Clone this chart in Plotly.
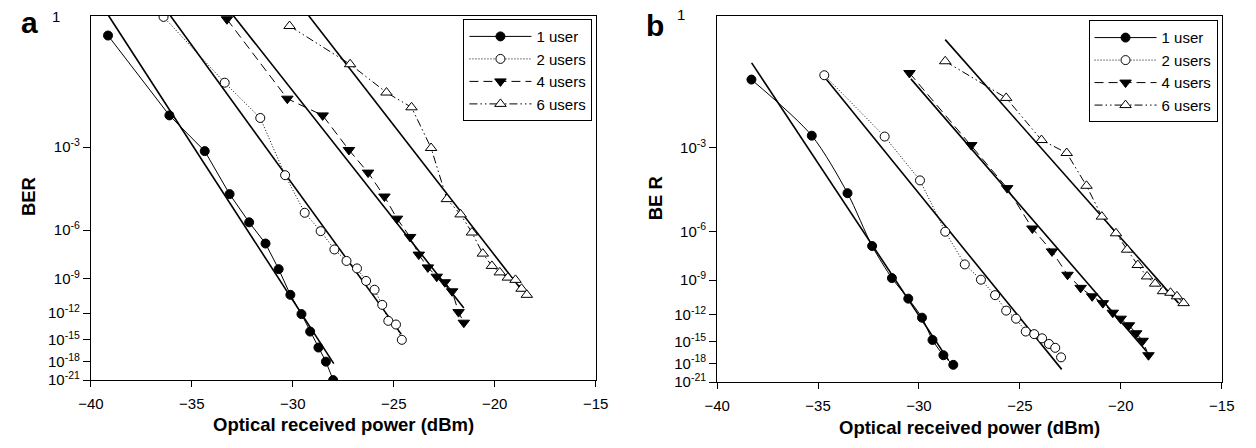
import numpy as np
import plotly.graph_objects as go

W, H = 1256, 448

# ---- measured BER curves (power in dBm, BER given as log10(BER)) ----
# panel a
a_1user_p   = [-39.15, -36.11, -34.36, -33.13, -32.16, -31.35, -30.70, -30.12, -29.57, -29.14, -28.73, -28.36, -28.00]
a_1user_ber = [-1.18, -2.30, -3.10, -4.44, -5.62, -6.71, -8.31, -10.3, -12.1, -14.0, -16.0, -18.0, -21.0]
a_2users_p   = [-36.40, -33.37, -31.61, -30.38, -29.41, -28.62, -27.94, -27.34, -26.82, -26.37, -25.95, -25.57, -25.27, -24.89, -24.60]
a_2users_ber = [-1.01, -1.75, -2.35, -3.79, -5.19, -6.05, -7.05, -7.76, -8.26, -9.17, -9.87, -11.2, -12.8, -13.2, -15.0]
a_4users_p   = [-33.26, -30.27, -28.52, -27.22, -26.27, -25.46, -24.84, -24.19, -23.76, -23.31, -22.87, -22.47, -22.11, -21.79, -21.53]
a_4users_ber = [-1.03, -2.00, -2.30, -3.07, -3.71, -4.53, -5.45, -6.35, -7.36, -8.19, -8.85, -9.27, -10.0, -11.9, -13.0]
a_6users_p   = [-30.16, -27.16, -25.36, -24.12, -23.15, -22.37, -21.69, -21.13, -20.59, -20.14, -19.75, -19.35, -18.97, -18.67, -18.41]
a_6users_ber = [-1.09, -1.50, -1.90, -2.15, -3.02, -4.63, -5.26, -6.12, -7.30, -8.09, -8.54, -8.92, -9.09, -9.79, -10.3]

# panel b
b_1user_p   = [-38.30, -35.31, -33.54, -32.32, -31.34, -30.53, -29.85, -29.33, -28.79, -28.30]
b_1user_ber = [-1.70, -2.71, -4.37, -6.78, -8.85, -10.5, -12.3, -14.8, -16.8, -18.2]
b_2users_p   = [-34.69, -31.70, -29.95, -28.70, -27.73, -26.93, -26.23, -25.68, -25.19, -24.71, -24.29, -23.90, -23.56, -23.25, -22.96]
b_2users_ber = [-1.64, -2.73, -3.93, -6.02, -7.90, -8.97, -10.2, -11.6, -12.4, -13.8, -14.1, -14.6, -15.3, -15.8, -17.1]
b_4users_p   = [-30.47, -27.41, -25.63, -24.38, -23.41, -22.64, -21.99, -21.42, -20.89, -20.40, -20.01, -19.60, -19.24, -18.92, -18.63]
b_4users_ber = [-1.61, -2.93, -4.19, -5.86, -7.09, -8.61, -9.60, -10.3, -10.9, -11.8, -12.4, -13.1, -14.0, -14.9, -16.8]
b_6users_p   = [-28.70, -25.68, -23.93, -22.68, -21.70, -20.94, -20.24, -19.69, -19.16, -18.70, -18.30, -17.91, -17.54, -17.22, -16.89]
b_6users_ber = [-1.46, -1.98, -2.81, -3.13, -4.11, -5.31, -6.10, -6.99, -7.94, -8.73, -9.27, -9.87, -10.0, -10.3, -10.9]

# ---- straight-line fits: (start power, end power), (start log10 BER, end log10 BER) ----
a_fit_p   = [[-39.12, -27.97], [-36.06, -24.63], [-32.94, -21.53], [-29.21, -18.62]]
a_fit_ber = [[-1.0, -18.3], [-1.0, -14.3], [-1.0, -11.5], [-1.0, -10.0]]
b_fit_p   = [[-38.29, -28.54], [-34.58, -22.93], [-30.40, -18.72], [-28.70, -17.14]]
b_fit_ber = [[-1.48, -17.5], [-1.70, -18.9], [-1.69, -16.3], [-1.22, -10.9]]

series_names = ["1 user", "2 users", "4 users", "6 users"]
x_ticks = [-40, -35, -30, -25, -20, -15]
ber_tick_exps = [3, 6, 9, 12, 15, 18, 21]

FONT = "Liberation Sans, Arial, sans-serif"


def ber_axis(log_ber):
    """BER plotted on a log(-log) scale, growing downwards."""
    return np.log10(-np.asarray(log_ber, dtype=float))


styles = [
    dict(line=dict(color="black", width=1, dash="solid"),
         marker=dict(symbol="circle", size=9, color="black", line=dict(color="black", width=1))),
    dict(line=dict(color="black", width=1, dash="1px,2px"),
         marker=dict(symbol="circle", size=9, color="white", line=dict(color="black", width=1))),
    dict(line=dict(color="black", width=1, dash="9px,5px"),
         marker=dict(symbol="triangle-down", size=10, color="black", line=dict(color="black", width=1))),
    dict(line=dict(color="black", width=1, dash="8px,3px,1.5px,3px,1.5px,3px"),
         marker=dict(symbol="triangle-up", size=10, color="white", line=dict(color="black", width=1))),
]

fig = go.Figure()

panels = [
    dict(xa="x", ya="y", legend="legend",
         data=[(a_1user_p, a_1user_ber), (a_2users_p, a_2users_ber),
               (a_4users_p, a_4users_ber), (a_6users_p, a_6users_ber)],
         fits=(a_fit_p, a_fit_ber), spline=[False, False, False, False]),
    dict(xa="x2", ya="y2", legend="legend2",
         data=[(b_1user_p, b_1user_ber), (b_2users_p, b_2users_ber),
               (b_4users_p, b_4users_ber), (b_6users_p, b_6users_ber)],
         fits=(b_fit_p, b_fit_ber), spline=[True, False, False, False]),
]

for pan in panels:
    fp, fb = pan["fits"]
    for k in range(4):
        fig.add_trace(go.Scatter(
            x=fp[k], y=ber_axis(fb[k]), mode="lines",
            line=dict(color="black", width=1.6), showlegend=False,
            xaxis=pan["xa"], yaxis=pan["ya"], hoverinfo="skip"))
    for k, (p, b) in enumerate(pan["data"]):
        st = styles[k]
        line = dict(st["line"])
        if pan["spline"][k]:
            line["shape"] = "spline"
            line["smoothing"] = 0.8
        fig.add_trace(go.Scatter(
            x=p, y=ber_axis(b), mode="lines+markers", name=series_names[k],
            line=line, marker=st["marker"], legend=pan["legend"],
            xaxis=pan["xa"], yaxis=pan["ya"]))


def px(xp):
    return xp / W


def py(yp):
    return 1 - yp / H


font_tick = dict(family=FONT, size=15, color="black")

common_x = dict(range=[-40, -15], tickvals=x_ticks, ticks="outside", ticklen=6,
                tickwidth=1, tickcolor="black", showline=True, linecolor="black",
                linewidth=1, mirror=True, showgrid=False, zeroline=False,
                tickfont=font_tick, ticklabelstandoff=4)
common_y = dict(range=[np.log10(21), 0], autorange=False,
                tickvals=list(np.log10(ber_tick_exps)),
                ticktext=[f"10<sup>-{e}</sup>" for e in ber_tick_exps],
                ticks="outside", ticklen=7, tickwidth=1, tickcolor="black",
                showline=True, linecolor="black", linewidth=1, mirror=True,
                showgrid=False, zeroline=False, tickfont=font_tick)

legend_common = dict(xanchor="right", yanchor="top", bgcolor="white",
                     bordercolor="black", borderwidth=1, itemwidth=62,
                     font=dict(family=FONT, size=15, color="black"),
                     tracegroupgap=0)

fig.update_layout(
    width=W, height=H, margin=dict(l=0, r=0, t=0, b=0),
    paper_bgcolor="white", plot_bgcolor="white",
    xaxis=dict(domain=[px(79.5), px(595)], anchor="y", **common_x),
    yaxis=dict(domain=[py(387), py(16)], anchor="x", **common_y),
    xaxis2=dict(domain=[px(719), px(1234.3)], anchor="y2", **common_x),
    yaxis2=dict(domain=[py(389), py(16)], anchor="x2", **common_y),
    legend=dict(x=px(591.7), y=py(19.5), **legend_common),
    legend2=dict(x=px(1230), y=py(20.7), **legend_common),
    showlegend=True,
)

title_font = dict(family=FONT, size=18.5, color="black")
letter_font = dict(family=FONT, size=30, color="black")
ann = [
    dict(text="<b>a</b>", x=px(16.5), y=py(23), font=letter_font),
    dict(text="<b>b</b>", x=px(656), y=py(26), font=letter_font),
    dict(text="1", x=px(44), y=py(17), font=font_tick),
    dict(text="1", x=px(682), y=py(15), font=font_tick),
    dict(text="<b>Optical received power (dBm)</b>", x=px(337), y=py(432), font=title_font),
    dict(text="<b>Optical received power (dBm)</b>", x=px(977), y=py(435), font=title_font),
    dict(text="<b>BER</b>", x=px(16), y=py(200), textangle=-90, font=title_font),
    dict(text="<b>BE R</b>", x=px(655.5), y=py(202), textangle=-90, font=title_font),
]
for a in ann:
    a.update(xref="paper", yref="paper", showarrow=False, xanchor="center", yanchor="middle")
fig.update_layout(annotations=ann)

fig.write_html("out.html")
